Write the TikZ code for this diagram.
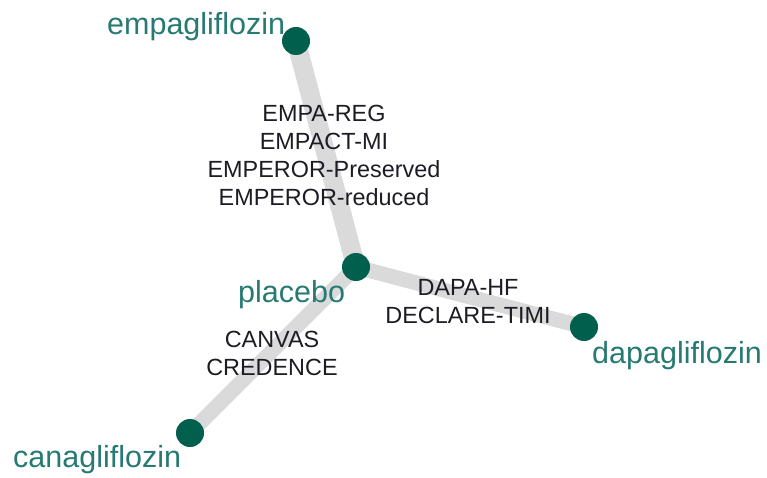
\documentclass[tikz,border=0pt]{standalone}
\usepackage{fontspec}
\setmainfont{Liberation Sans}
\definecolor{nodegreen}{HTML}{00604D}
\definecolor{labelteal}{HTML}{267A72}
\definecolor{edgegray}{HTML}{DADADA}
\definecolor{trialtext}{HTML}{1C1C24}
\tikzset{
  treat/.style={circle, fill=nodegreen, draw=none, minimum size=28pt, inner sep=0pt},
  treatlabel/.style={anchor=base west, inner sep=0pt, text=labelteal,
    font=\fontsize{30.5}{36}\selectfont},
  comparison/.style={draw=edgegray, line width=#1},
  trials/.style={align=center, inner sep=0pt, text=trialtext,
    font=\fontsize{23.4}{28}\selectfont}
}
\begin{document}
\begin{tikzpicture}[x=1pt, y=-1pt]
\useasboundingbox (0,0) rectangle (767,478);

% treatment nodes
\coordinate (pE) at (296,41);
\coordinate (pP) at (356,267);
\coordinate (pD) at (584,327);
\coordinate (pC) at (190,433);

% comparison edges (width by number of trials)
\draw[comparison=19pt] (pE) -- (pP);
\draw[comparison=15pt] (pP) -- (pD);
\draw[comparison=15pt] (pP) -- (pC);

\node[treat] (empa) at (pE) {};
\node[treat] (plac) at (pP) {};
\node[treat] (dapa) at (pD) {};
\node[treat] (cana) at (pC) {};

% treatment names
\node[treatlabel] (lempa) at (107,35) {empagliflozin};
\node[treatlabel] (lplac) at (238,302) {placebo};
\node[treatlabel] (ldapa) at (592,363) {dapagliflozin};
\node[treatlabel] (lcana) at (13,467) {canagliflozin};

% trial names on the edges
\node[trials] (tE) at (324,155) {EMPA-REG\\EMPACT-MI\\EMPEROR-Preserved\\EMPEROR-reduced};
\node[trials] (tD) at (468,302) {DAPA-HF\\DECLARE-TIMI};
\node[trials] (tC) at (272,353.5) {CANVAS\\CREDENCE};
\end{tikzpicture}
\end{document}
